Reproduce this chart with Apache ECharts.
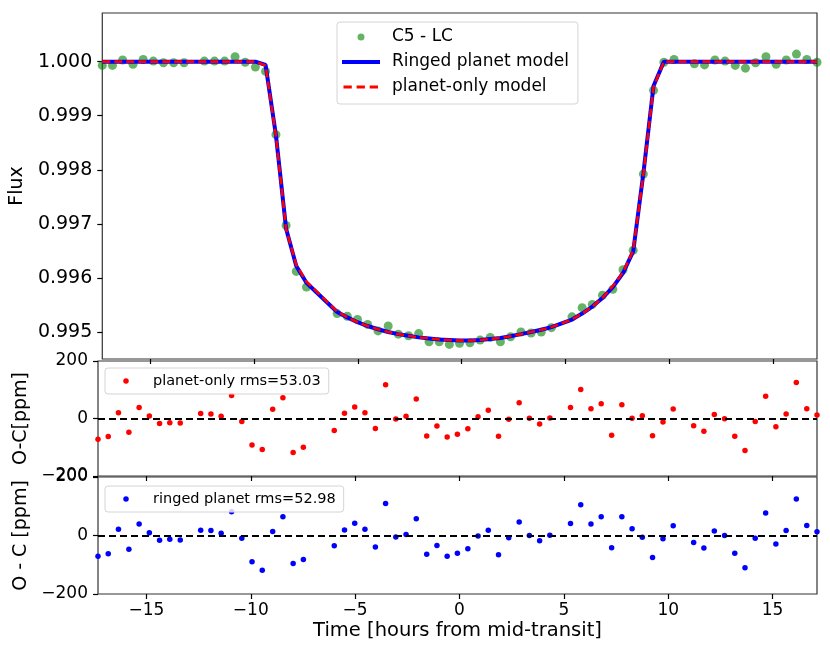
<!DOCTYPE html>
<html>
<head>
<meta charset="utf-8">
<script src="https://cdn.jsdelivr.net/npm/echarts@6/dist/echarts.min.js"></script>
<style>
  html, body { margin: 0; padding: 0; background: #fff; }
  #chart { width: 830px; height: 652px; }
</style>
</head>
<body>
<div id="chart"></div>
<script>
// time of each long-cadence point, hours from mid-transit (gaps where data is missing)
const times = [-17.32, -16.83, -16.34, -15.84, -15.35, -14.86, -14.37, -13.88, -13.38,
  -12.40, -11.91, -11.42, -10.92, -10.43, -9.94, -9.45, -8.95, -8.46, -7.97, -7.48,
  -6.00, -5.51, -5.02, -4.53, -4.03, -3.54, -3.05, -2.56, -2.07, -1.57, -1.08, -0.59,
  -0.10, 0.40, 0.89, 1.38, 1.87, 2.36, 2.86, 3.35, 3.84, 4.33,
  5.32, 5.81, 6.30, 6.79, 7.29, 7.78, 8.27, 8.76, 9.25, 9.75, 10.24,
  11.22, 11.71, 12.21, 12.70, 13.19, 13.68, 14.17, 14.67, 15.16, 15.65, 16.14, 16.64, 17.13]

const flux = [0.99993, 0.99993, 1.00003, 0.99995, 1.00004, 1.00001, 0.99998, 0.99998, 0.99998,
  1.00001, 1.00001, 1.00001, 1.00009, 0.99999, 0.99990, 0.99982, 0.99865, 0.99697, 0.99612, 0.99583,
  0.99534, 0.99529, 0.99523, 0.99514, 0.99502, 0.99511, 0.99496, 0.99493, 0.99497, 0.99482, 0.99482, 0.99477,
  0.99479, 0.99480, 0.99485, 0.99490, 0.99482, 0.99491, 0.99500, 0.99498, 0.99500, 0.99508,
  0.99528, 0.99545, 0.99551, 0.99568, 0.99579, 0.99615, 0.99651, 0.99792, 0.99947, 0.99999, 1.00004,
  0.99996, 0.99994, 1.00003, 1.00001, 0.99993, 0.99988, 0.99998, 1.00009, 0.99995, 1.00003, 1.00014, 1.00004, 0.99999]

const ringedModel = [1.0, 1.0, 1.0, 1.0, 1.0, 1.0, 1.0, 1.0, 1.0,
  1.0, 1.0, 1.0, 1.0, 1.0, 1.0, 0.99994, 0.99864, 0.99691, 0.99622, 0.99591,
  0.99537, 0.99527, 0.99518, 0.99511, 0.99505, 0.99500, 0.99496, 0.99493, 0.99490, 0.99488, 0.99486, 0.99485,
  0.99484, 0.99484, 0.99485, 0.99487, 0.99489, 0.99492, 0.99496, 0.99500, 0.99504, 0.99509,
  0.99523, 0.99534, 0.99547, 0.99563, 0.99583, 0.99609, 0.99649, 0.99793, 0.99955, 1.0, 1.0,
  1.0, 1.0, 1.0, 1.0, 1.0, 1.0, 1.0, 1.0, 1.0, 1.0, 1.0, 1.0, 1.0]

const planetModel = [1.0, 1.0, 1.0, 1.0, 1.0, 1.0, 1.0, 1.0, 1.0,
  1.0, 1.0, 1.0, 1.0, 1.0, 1.0, 0.99993, 0.99862, 0.99690, 0.99624, 0.99593,
  0.99538, 0.99527, 0.99518, 0.99511, 0.99505, 0.99500, 0.99496, 0.99493, 0.99490, 0.99488, 0.99486, 0.99485,
  0.99484, 0.99484, 0.99485, 0.99487, 0.99489, 0.99492, 0.99496, 0.99500, 0.99504, 0.99509,
  0.99523, 0.99534, 0.99547, 0.99563, 0.99585, 0.99610, 0.99651, 0.99791, 0.99953, 1.0, 1.0,
  1.0, 1.0, 1.0, 1.0, 1.0, 1.0, 1.0, 1.0, 1.0, 1.0, 1.0, 1.0, 1.0]

// residuals in ppm
const residPlanet = [-72, -63, 20, -48, 38, 9, -17, -15, -16,
  17, 16, 8, 80, -10, -92, -108, 32, 72, -118, -100,
  -42, 18, 40, 20, -35, 117, -2, 8, 68, -61, -26, -64, -55, -36, 6, 29, -62, -3, 55, 1, -19, 2,
  38, 101, 34, 51, -58, 48, 1, 10, -60, -12, 33,
  -25, -44, 14, -1, -62, -111, -10, 77, -29, 16, 125, 34, 12]

const residRinged = [-71, -62, 21, -47, 39, 9, -16, -13, -15,
  18, 17, 8, 81, -9, -90, -119, 14, 64, -96, -82,
  -35, 19, 42, 21, -39, 109, -5, 3, 57, -64, -34, -71, -61, -45, -2, 18, -66, -8, 46, 0, -18, 1,
  41, 105, 39, 64, -42, 64, 23, -6, -75, -11, 33,
  -24, -43, 15, 0, -61, -110, -9, 77, -29, 17, 125, 34, 13]

const fluxTicks = [0.995, 0.996, 0.997, 0.998, 0.999, 1.0]
const timeTicks = [-15, -10, -5, 0, 5, 10, 15]

const font = 'DejaVu Sans'
const minus = v => String(v).replace('-', '\u2212')
const pair = (xs, ys) => xs.map((x, i) => [x, ys[i]])

// legend glyphs, drawn like matplotlib handles (the corner points only fix the icon box)
const box = (w, h) => `M0,0L0,0M${w},${h}L${w},${h}`
const dotIcon = (w, h, cx, r) => `path://${box(w, h)}M${cx - r},${h / 2}a${r},${r} 0 1,0 ${2 * r},0a${r},${r} 0 1,0 ${-2 * r},0Z`
const solidIcon = 'path://' + box(45, 7) + 'M0,1.5H38V5.5H0Z'
const dashIcon = 'path://' + box(45, 7) + 'M1.5,2H9.8V5H1.5Z M14.6,2H22.9V5H14.6Z M27.7,2H36V5H27.7Z'

const chart = echarts.init(document.getElementById('chart'))

const gridBase = {left: 98, right: 13, show: true, borderColor: '#333', borderWidth: 1.2, backgroundColor: 'transparent'}

function xAxisFor(gridIndex, withLabel) {
  return {
    type: 'value', gridIndex, min: -17.32, max: 17.13,
    splitLine: {show: false},
    axisLine: {show: false, onZero: false},
    axisTick: {show: true, inside: false, length: 5, customValues: timeTicks, lineStyle: {color: '#000', width: 1.2}},
    axisLabel: {show: withLabel, customValues: timeTicks, formatter: minus, fontSize: 17, color: '#000', fontFamily: font, margin: 8},
    name: withLabel ? 'Time [hours from mid-transit]' : '',
    nameLocation: 'middle', nameGap: 27,
    nameTextStyle: {fontSize: 19.5, color: '#000', fontFamily: font}
  }
}

function residAxis(gridIndex, name, gap) {
  return {
    type: 'value', gridIndex, min: -200, max: 200, interval: 200,
    splitLine: {show: false},
    axisLine: {show: false, onZero: false},
    axisTick: {show: true, length: 5, lineStyle: {color: '#000', width: 1.2}},
    axisLabel: {formatter: minus, fontSize: 17, color: '#000', fontFamily: font, margin: 10},
    name, nameLocation: 'middle', nameGap: gap,
    nameTextStyle: {fontSize: 19, color: '#000', fontFamily: font}
  }
}

const zeroLine = {
  silent: true, symbol: ['none', 'none'], label: {show: false},
  lineStyle: {color: '#000', type: [7, 4], width: 2},
  data: [{yAxis: 0}]
}

const legendBox = {
  orient: 'vertical',
  backgroundColor: 'rgba(255,255,255,0.8)',
  borderColor: '#d4d4d4', borderWidth: 1, borderRadius: 3
}

const options = {
  animation: false,
  grid: [
    {...gridBase, top: 13, height: 346},
    {...gridBase, top: 361, height: 115},
    {...gridBase, top: 477, height: 117}
  ],
  xAxis: [xAxisFor(0, false), xAxisFor(1, false), xAxisFor(2, true)],
  yAxis: [
    {
      type: 'value', gridIndex: 0, min: 0.9945, max: 1.0009,
      splitLine: {show: false},
      axisLine: {show: false, onZero: false},
      axisTick: {show: true, length: 5, customValues: fluxTicks, lineStyle: {color: '#000', width: 1.2}},
      axisLabel: {customValues: fluxTicks, formatter: v => v.toFixed(3), fontSize: 19, color: '#000', fontFamily: font, margin: 10},
      name: 'Flux', nameLocation: 'middle', nameGap: 72,
      nameTextStyle: {fontSize: 19, color: '#000', fontFamily: font}
    },
    residAxis(1, 'O-C[ppm]', 61),
    residAxis(2, 'O - C [ppm]', 64)
  ],
  legend: [
    {
      ...legendBox,
      left: 337, top: 22,
      padding: [5, 9, 7, 5],
      itemWidth: 45, itemHeight: 7, itemGap: 5,
      textStyle: {fontSize: 17, color: '#000', fontFamily: font, lineHeight: 20},
      data: [
        {name: 'C5 - LC', icon: dotIcon(45, 7, 19, 3.5)},
        {name: 'Ringed planet model', icon: solidIcon},
        {name: 'planet-only model', icon: dashIcon}
      ]
    },
    {
      ...legendBox,
      left: 105, top: 368,
      padding: [4, 8, 4, 6],
      itemWidth: 37, itemHeight: 6,
      textStyle: {fontSize: 14.5, color: '#000', fontFamily: font, lineHeight: 18},
      data: [{name: 'planet-only rms=53.03', icon: dotIcon(37, 6, 15, 2.75)}]
    },
    {
      ...legendBox,
      left: 105, top: 486,
      padding: [4, 8, 4, 6],
      itemWidth: 37, itemHeight: 6,
      textStyle: {fontSize: 14.5, color: '#000', fontFamily: font, lineHeight: 18},
      data: [{name: 'ringed planet rms=52.98', icon: dotIcon(37, 6, 15, 2.75)}]
    }
  ],
  series: [
    {
      name: 'C5 - LC', type: 'scatter', xAxisIndex: 0, yAxisIndex: 0,
      data: pair(times, flux), symbolSize: 9,
      itemStyle: {color: '#008000', opacity: 0.6}
    },
    {
      name: 'Ringed planet model', type: 'line', xAxisIndex: 0, yAxisIndex: 0,
      data: pair(times, ringedModel), symbol: 'none',
      lineStyle: {color: '#0000ff', width: 4}, itemStyle: {color: '#0000ff'}
    },
    {
      name: 'planet-only model', type: 'line', xAxisIndex: 0, yAxisIndex: 0,
      data: pair(times, planetModel), symbol: 'none',
      lineStyle: {color: '#ff0000', width: 2.6, type: [8, 4]}, itemStyle: {color: '#ff0000'}
    },
    {
      name: 'planet-only rms=53.03', type: 'scatter', xAxisIndex: 1, yAxisIndex: 1,
      data: pair(times, residPlanet), symbolSize: 5.5,
      itemStyle: {color: '#ff0000', opacity: 1},
      markLine: zeroLine
    },
    {
      name: 'ringed planet rms=52.98', type: 'scatter', xAxisIndex: 2, yAxisIndex: 2,
      data: pair(times, residRinged), symbolSize: 5.5,
      itemStyle: {color: '#0000ff', opacity: 1},
      markLine: zeroLine
    }
  ]
}

chart.setOption(options)
</script>
</body>
</html>
